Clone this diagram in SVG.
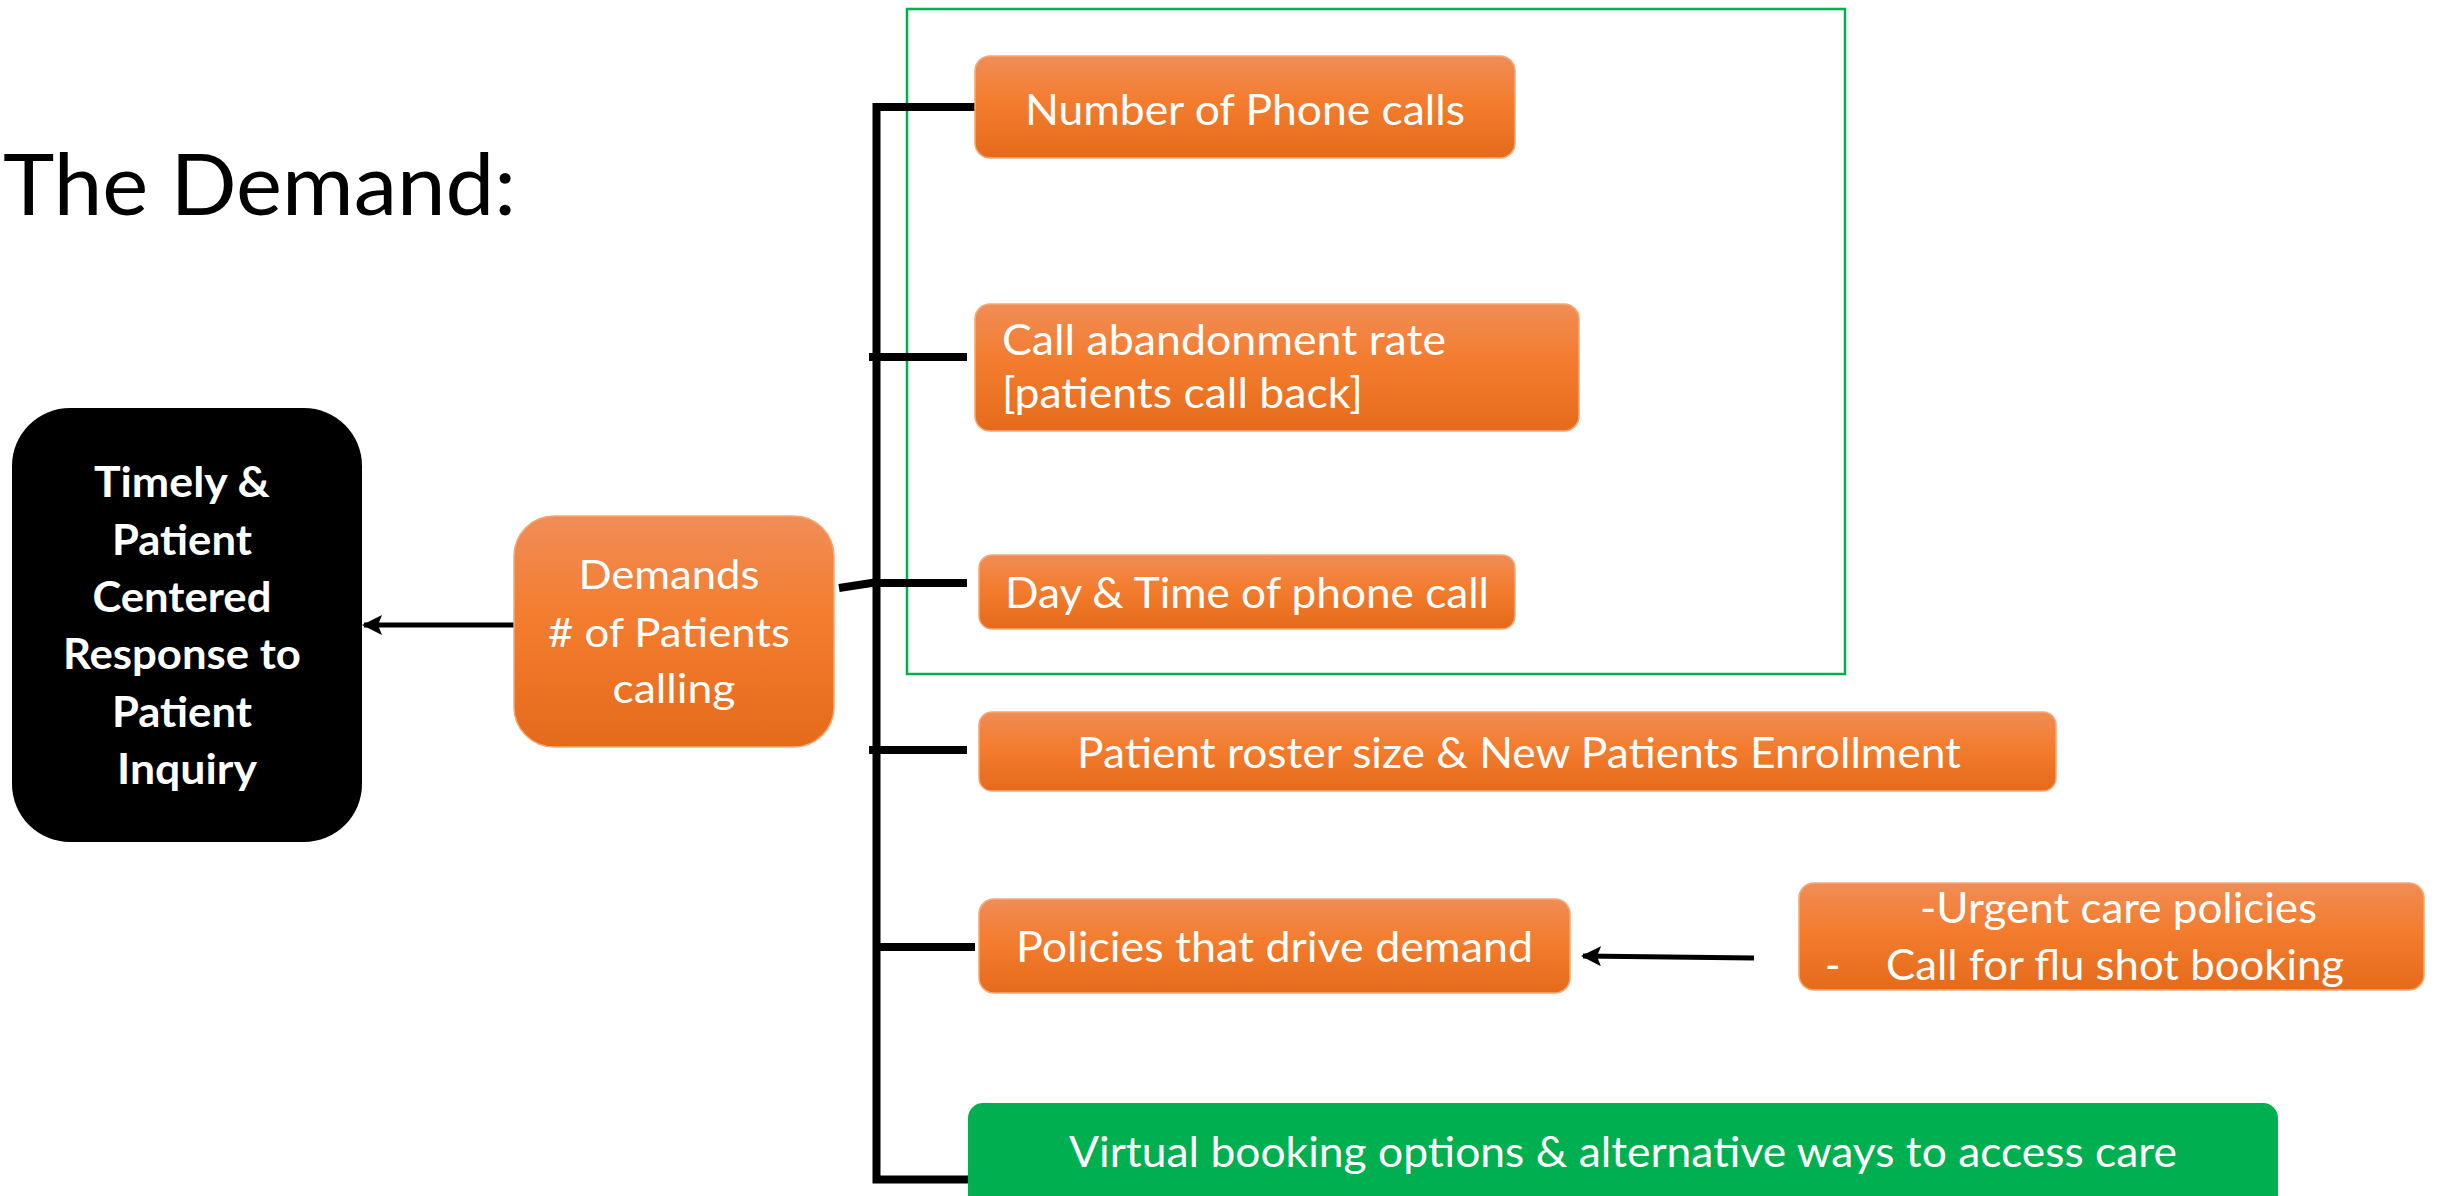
<svg xmlns="http://www.w3.org/2000/svg" width="2437" height="1196" viewBox="0 0 2437 1196">
  <defs>
    <linearGradient id="orangeFill" x1="0" y1="0" x2="0" y2="1">
      <stop offset="0" stop-color="#F08D56"/>
      <stop offset="0.45" stop-color="#F37C2E"/>
      <stop offset="1" stop-color="#E56B1B"/>
    </linearGradient>
    <marker id="arrowHead" viewBox="0 0 20 20" refX="18" refY="10" markerWidth="20" markerHeight="20" markerUnits="userSpaceOnUse" orient="auto">
      <path d="M0,0 L20,10 L0,20 L4,10 Z" fill="#000"/>
    </marker>
  </defs>
  <style>
    .orange { fill: url(#orangeFill); stroke: #F5A878; stroke-width: 1.5; }
    .green { fill: #00B050; }
    .label { font-family: Lato, "Open Sans", "Liberation Sans", sans-serif; font-size: 42px; fill: #FFFFFF; }
    .bold { font-weight: bold; }
    .title { font-family: Lato, "Open Sans", "Liberation Sans", sans-serif; font-size: 86px; fill: #000000; }
    .wire { stroke: #000; stroke-width: 8; fill: none; }
    .arrow { stroke: #000; stroke-width: 5; fill: none; }
  </style>

  <rect width="2437" height="1196" fill="#FFFFFF"/>

  <text class="title" x="3" y="215" textLength="513" lengthAdjust="spacingAndGlyphs">The Demand:</text>

  <!-- call-volume group frame -->
  <rect id="phone-frame" x="907" y="9" width="938" height="665" fill="none" stroke="#00B050" stroke-width="2.5"/>

  <!-- connectors -->
  <g id="connectors">
    <path class="wire" d="M975,107 H876.5 V1179.5 H974" stroke-linejoin="miter"/>
    <line class="wire" x1="869" y1="357" x2="967" y2="357"/>
    <line class="wire" x1="839" y1="588" x2="878" y2="582"/>
    <line class="wire" x1="872" y1="583" x2="967" y2="583"/>
    <line class="wire" x1="869" y1="750" x2="967" y2="750"/>
    <line class="wire" x1="876" y1="947" x2="975" y2="947"/>
    <line class="arrow" x1="538" y1="625" x2="364" y2="625" marker-end="url(#arrowHead)"/>
    <line class="arrow" x1="1754" y1="958" x2="1583" y2="956" stroke-width="6" marker-end="url(#arrowHead)"/>
  </g>

  <g id="node-response">
    <rect x="12" y="408" width="350" height="434" rx="58" ry="58" fill="#000000"/>
    <text class="label bold" text-anchor="middle">
      <tspan x="187" y="497" textLength="176" lengthAdjust="spacingAndGlyphs">Timely &amp;</tspan>
      <tspan x="187" y="555" textLength="140" lengthAdjust="spacingAndGlyphs">Patient</tspan>
      <tspan x="187" y="612" textLength="179" lengthAdjust="spacingAndGlyphs">Centered</tspan>
      <tspan x="187" y="669" textLength="238" lengthAdjust="spacingAndGlyphs">Response to</tspan>
      <tspan x="187" y="727" textLength="140" lengthAdjust="spacingAndGlyphs">Patient</tspan>
      <tspan x="187" y="784" textLength="140" lengthAdjust="spacingAndGlyphs">Inquiry</tspan>
    </text>
  </g>

  <g id="node-demands">
    <rect class="orange" x="514" y="516" width="320" height="231" rx="40" ry="40"/>
    <text class="label" text-anchor="middle" style="font-size:40px">
      <tspan x="674" y="589" textLength="181" lengthAdjust="spacingAndGlyphs">Demands</tspan>
      <tspan x="674" y="647" textLength="242" lengthAdjust="spacingAndGlyphs"># of Patients</tspan>
      <tspan x="674" y="703" textLength="123" lengthAdjust="spacingAndGlyphs">calling</tspan>
    </text>
  </g>

  <g id="node-phone-calls">
    <rect class="orange" x="975" y="56" width="540" height="102" rx="15" ry="15"/>
    <text class="label" x="1245" y="125" text-anchor="middle" textLength="440" lengthAdjust="spacingAndGlyphs">Number of Phone calls</text>
  </g>

  <g id="node-abandonment">
    <rect class="orange" x="975" y="304" width="604" height="127" rx="15" ry="15"/>
    <text class="label">
      <tspan x="1002" y="355" textLength="444" lengthAdjust="spacingAndGlyphs">Call abandonment rate</tspan>
      <tspan x="1002" y="408" textLength="361" lengthAdjust="spacingAndGlyphs">[patients call back]</tspan>
    </text>
  </g>

  <g id="node-day-time">
    <rect class="orange" x="979" y="555" width="536" height="74" rx="13" ry="13"/>
    <text class="label" x="1247" y="608" text-anchor="middle" textLength="484" lengthAdjust="spacingAndGlyphs">Day &amp; Time of phone call</text>
  </g>

  <g id="node-roster">
    <rect class="orange" x="979" y="712" width="1077" height="79" rx="13" ry="13"/>
    <text class="label" x="1519" y="768" text-anchor="middle" textLength="884" lengthAdjust="spacingAndGlyphs">Patient roster size &amp; New Patients Enrollment</text>
  </g>

  <g id="node-policies">
    <rect class="orange" x="979" y="899" width="591" height="94" rx="15" ry="15"/>
    <text class="label" x="1274.5" y="962" text-anchor="middle" textLength="517" lengthAdjust="spacingAndGlyphs">Policies that drive demand</text>
  </g>

  <g id="node-policy-examples">
    <rect class="orange" x="1799" y="883" width="625" height="107" rx="15" ry="15"/>
    <text class="label" x="2118.5" y="923" text-anchor="middle" textLength="397" lengthAdjust="spacingAndGlyphs">-Urgent care policies</text>
    <text class="label" x="1825" y="980">-</text>
    <text class="label" x="1886" y="980" textLength="458" lengthAdjust="spacingAndGlyphs">Call for flu shot booking</text>
  </g>

  <g id="node-virtual">
    <rect class="green" x="968" y="1103" width="1310" height="130" rx="15" ry="15"/>
    <text class="label" x="1623" y="1167" text-anchor="middle" textLength="1108" lengthAdjust="spacingAndGlyphs">Virtual booking options &amp; alternative ways to access care</text>
  </g>
</svg>
